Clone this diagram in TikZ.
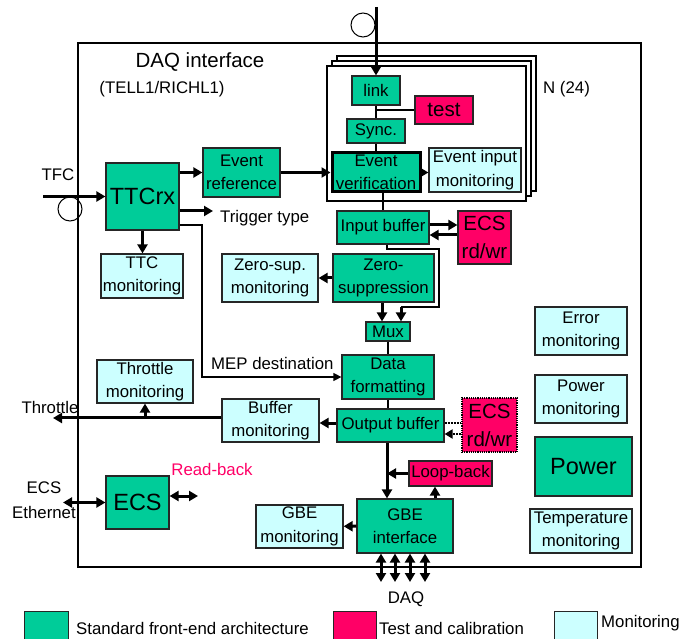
\documentclass[tikz,border=0pt]{standalone}
\usepackage{fontspec}
\setmainfont{Liberation Sans}
\usepackage{tikz}
\usetikzlibrary{arrows.meta}

\definecolor{stdgreen}{RGB}{0,204,153}
\definecolor{testred}{RGB}{255,0,102}
\definecolor{moncyan}{RGB}{204,255,255}

\newcommand{\fsn}{\fontsize{16.8}{23.5}\selectfont}
\newcommand{\fsm}{\fontsize{20.5}{28}\selectfont}
\newcommand{\fsl}{\fontsize{23.5}{26}\selectfont}

\tikzset{
  blk/.style={rectangle, draw=black!85, line width=1.2pt, inner sep=0pt, align=center, font=\fsn},
  std/.style={blk, fill=stdgreen},
  tst/.style={blk, fill=testred},
  mon/.style={blk, fill=moncyan},
  thk/.style={line width=3pt, -{Triangle[length=9pt,width=10pt]}},
  thkb/.style={line width=3pt, {Triangle[length=9pt,width=10pt]}-{Triangle[length=9pt,width=10pt]}},
  thn/.style={line width=1.2pt},
  lbl/.style={inner sep=0pt, font=\fsn},
  ring/.style={circle, draw, line width=1pt, minimum size=24pt, inner sep=0pt},
}

\begin{document}
\begin{tikzpicture}[x=1pt, y=-1pt]
  \useasboundingbox (0,0) rectangle (697,639);
  \clip (0,0) rectangle (697,639);

  % board
  \draw[line width=1.2pt] (78,43) rectangle (641,567);
  \node[lbl, font=\fsm] (title) at (200,62) {DAQ interface};
  \node[lbl] (subtitle) at (162,89) {(TELL1/RICHL1)};

  % N input channels
  \foreach \d in {10,5,0}
    \draw[thn, fill=white] (327+\d,66-\d) rectangle (526+\d,201-\d);
  \node[lbl, anchor=west] (nch) at (543,89) {N (24)};

  \node[std, minimum width=48pt, minimum height=29pt] (link) at (376,90.5) {link};
  \node[tst, font=\fsm, minimum width=58pt, minimum height=28pt] (test) at (444,110) {test};
  \node[std, minimum width=58pt, minimum height=24pt] (sync) at (376,131) {Sync.};
  \node[std, line width=3pt, draw=black, minimum width=88pt, minimum height=39pt] (evver) at (376,172.5) {Event\\verification};
  \node[mon, minimum width=92pt, minimum height=44pt] (evinmon) at (475,170) {Event input\\monitoring};

  % timing
  \node[std, font=\fsl, minimum width=73pt, minimum height=67pt] (ttcrx) at (142.5,196.5) {TTCrx};
  \node[std, minimum width=77pt, minimum height=49pt] (evref) at (241.5,172.5) {Event\\reference};
  \node[mon, minimum width=82pt, minimum height=44pt] (ttcmon) at (142,276) {TTC\\monitoring};
  \node[lbl] (tfc) at (58,175) {TFC};
  \node[ring] (tfcring) at (70,209) {};
  \node[ring] (linkring) at (363,25) {};
  \node[lbl, anchor=west] (trig) at (220,218) {Trigger type};
  \node[lbl, anchor=west] (mep) at (211,363) {MEP destination};

  % data path
  \node[std, minimum width=92pt, minimum height=33pt] (inbuf) at (383,227.5) {Input buffer};
  \node[tst, font=\fsm, minimum width=53pt, minimum height=53pt] (ecsa) at (484.5,237.5) {ECS\\rd/wr};
  \node[std, minimum width=101pt, minimum height=48pt] (zs) at (383.5,278) {Zero-\\suppression};
  \node[mon, minimum width=96pt, minimum height=48pt] (zsmon) at (270,278) {Zero-sup.\\monitoring};
  \node[std, minimum width=44pt, minimum height=19pt] (mux) at (388,331.5) {Mux};
  \node[std, minimum width=92pt, minimum height=44pt] (datfmt) at (388,377) {Data\\formatting};
  \node[std, minimum width=107pt, minimum height=33pt] (outbuf) at (390.5,425.5) {Output buffer};
  \node[tst, font=\fsm, densely dotted, line width=2pt, draw=black, minimum width=55pt, minimum height=54pt] (ecsb) at (489.5,425) {ECS\\rd/wr};
  \node[mon, minimum width=97pt, minimum height=43pt] (bufmon) at (270.5,420.5) {Buffer\\monitoring};
  \node[mon, minimum width=96pt, minimum height=43pt] (thrmon) at (145,381.5) {Throttle\\monitoring};
  \node[lbl] (thr) at (50,407) {Throttle};
  \node[tst, minimum width=83pt, minimum height=25pt] (loop) at (450.5,473.5) {Loop-back};
  \node[std, minimum width=96pt, minimum height=54pt] (gbe) at (405,526) {GBE\\interface};
  \node[mon, minimum width=87pt, minimum height=43pt] (gbemon) at (299.5,526.5) {GBE\\monitoring};
  \node[lbl] (daq) at (406,599) {DAQ};

  % control
  \node[std, font=\fsl, minimum width=63pt, minimum height=53pt] (ecsc) at (137.5,502.5) {ECS};
  \node[lbl, align=center, font=\fontsize{16.8}{25}\selectfont] (ecseth) at (44,500.5) {ECS\\Ethernet};
  \node[lbl, text=testred] (rdback) at (212,469) {Read-back};

  % board services
  \node[mon, minimum width=92pt, minimum height=48pt] (errmon) at (581,331) {Error\\monitoring};
  \node[mon, minimum width=92pt, minimum height=48pt] (pwrmon) at (581,399) {Power\\monitoring};
  \node[std, font=\fsl, minimum width=97pt, minimum height=59pt] (power) at (583.5,466.5) {Power};
  \node[mon, minimum width=102pt, minimum height=44pt] (tempmon) at (581,531) {Temperature\\monitoring};

  % legend
  \node[std, minimum width=44pt, minimum height=40pt, anchor=north west] (legstd) at (24,611) {};
  \node[lbl, anchor=west] (legstdt) at (76,628) {Standard front-end architecture};
  \node[tst, minimum width=43pt, minimum height=40pt, anchor=north west] (legtst) at (333,611) {};
  \node[lbl, anchor=west] (legtstt) at (379,628) {Test and calibration};
  \node[mon, minimum width=43pt, minimum height=40pt, anchor=north west] (legmon) at (554,611) {};
  \node[lbl, anchor=west] (legmont) at (601,623) {Monitoring};

  \coordinate (tfcin) at (43,196.5);
  \coordinate (linkin) at (376,7);
  \coordinate (trigend) at (213,211);
  \coordinate (thrend) at (53,418);
  \coordinate (ethend) at (63,502.5);
  \coordinate (rbend) at (198,496);
  \coordinate (byp) at (401,307);

  % timing connections
  \draw[thk] (tfcin) -- (ttcrx);
  \draw[thk] (ttcrx.east |- evref) -- (evref);
  \draw[thk] (ttcrx.east |- trigend) -- (trigend);
  \draw[thk] (ttcrx.south) -- (ttcrx.south |- ttcmon.north);
  \draw[thn, -{Triangle[length=8pt,width=8pt]}] (ttcrx.east |- 0,225) -- (202,225) |- (datfmt.west);
  \draw[thk] (evref) -- (evver);

  % channel connections
  \draw[thk] (linkin) -- (link);
  \draw[thn] (link) -- (sync);
  \draw[thn] (test.west) -- (test.west -| link);
  \draw[thn] (sync) -- (evver);
  \draw[thk] (evver.east) -- (evver.east -| evinmon.west);
  \draw[thn] (evver.south -| inbuf) -- (inbuf.north);

  % data path connections
  \draw[thk] (inbuf.east |- 0,225) -- (ecsa.west |- 0,225);
  \draw[thk] (ecsa.west |- 0,235) -- (inbuf.east |- 0,235);
  \draw[thn] (inbuf.south -| 387,0) -- (387,249) -| (439,307) -- (byp);
  \draw[thk] (byp) -- (byp |- mux.north);
  \draw[thk] (zs.south -| 382,0) -- (382,0 |- mux.north);
  \draw[thk] (zs) -- (zsmon);
  \draw[thn] (mux) -- (datfmt);
  \draw[thn] (datfmt.south) -- (datfmt.south |- outbuf.north);
  \draw[thk] (outbuf.west |- 0,423) -- (bufmon.east |- 0,423);
  \draw[thk] (bufmon.west |- thrend) -- (thrend);
  \draw[thk] (thrmon.south |- thrend) -- (thrmon.south);
  \draw[thn, line width=2pt, densely dotted] (outbuf.east |- 0,423) -- (ecsb.west |- 0,423);
  \draw[thn, line width=2pt, densely dotted, -{Triangle[length=8pt,width=9pt]}] (ecsb.west |- 0,434) -- (outbuf.east |- 0,434);
  \draw[thk] (outbuf.south -| 387,0) -- (387,0 |- gbe.north);
  \draw[thk] (loop.west) -- (loop.west -| 387,0);
  \draw[thk] (gbe.north -| 435,0) -- (435,0 |- loop.south);
  \draw[thk] (gbe) -- (gbemon);
  \foreach \x in {381,395,410,425}
    \draw[thkb] (\x,0 |- gbe.south) -- (\x,582);

  % control connections
  \draw[thkb] (ecsc.west) -- (ethend);
  \draw[thkb] (ecsc.east |- rbend) -- (rbend);
\end{tikzpicture}
\end{document}
